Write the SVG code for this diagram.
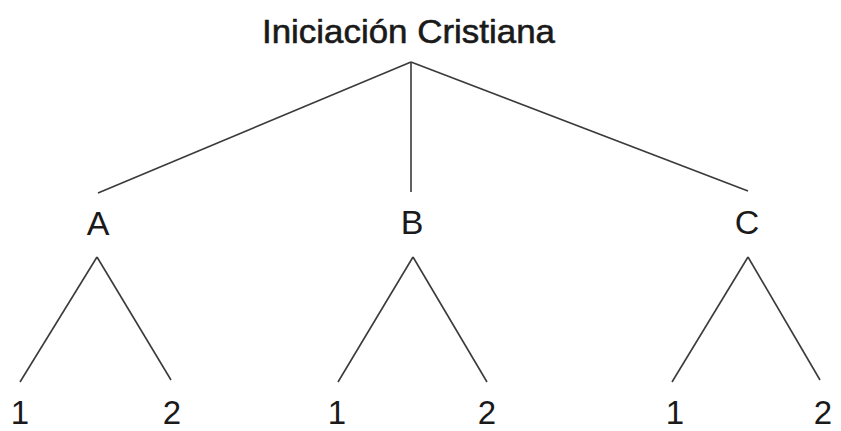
<svg xmlns="http://www.w3.org/2000/svg" width="841" height="431" viewBox="0 0 841 431">
<style>
.t{font-family:"Liberation Sans",Arial,sans-serif;fill:#1a1a1a;text-anchor:middle}
.lbl{font-size:34px}
.num{font-size:33px}
.ttl{font-size:34px;stroke:#1a1a1a;stroke-width:0.6}
#connectors line{stroke:#3a3a3a;stroke-width:1.6;fill:none}
</style>
<rect width="841" height="431" fill="#ffffff"/>
<g id="connectors">
<line x1="411" y1="62" x2="98" y2="193"/>
<line x1="411" y1="62" x2="411" y2="192"/>
<line x1="411" y1="62" x2="748" y2="191"/>
<line x1="97" y1="257" x2="20" y2="382"/>
<line x1="97" y1="257" x2="171" y2="380"/>
<line x1="413" y1="257" x2="338" y2="382"/>
<line x1="413" y1="257" x2="487" y2="382"/>
<line x1="748" y1="257" x2="672" y2="382"/>
<line x1="748" y1="257" x2="820" y2="380"/>
</g>
<g id="root"><text class="t ttl" x="408.5" y="43" textLength="293" lengthAdjust="spacingAndGlyphs">Iniciación Cristiana</text></g>
<g id="nodeA"><text class="t lbl" x="98" y="235">A</text></g>
<g id="nodeB"><text class="t lbl" x="412" y="234">B</text></g>
<g id="nodeC"><text class="t lbl" x="747" y="234">C</text></g>
<g id="nodeA1"><text class="t num" x="20" y="424">1</text></g>
<g id="nodeA2"><text class="t num" x="172" y="424">2</text></g>
<g id="nodeB1"><text class="t num" x="337" y="424">1</text></g>
<g id="nodeB2"><text class="t num" x="487" y="424">2</text></g>
<g id="nodeC1"><text class="t num" x="675" y="424">1</text></g>
<g id="nodeC2"><text class="t num" x="823" y="424">2</text></g>
</svg>
